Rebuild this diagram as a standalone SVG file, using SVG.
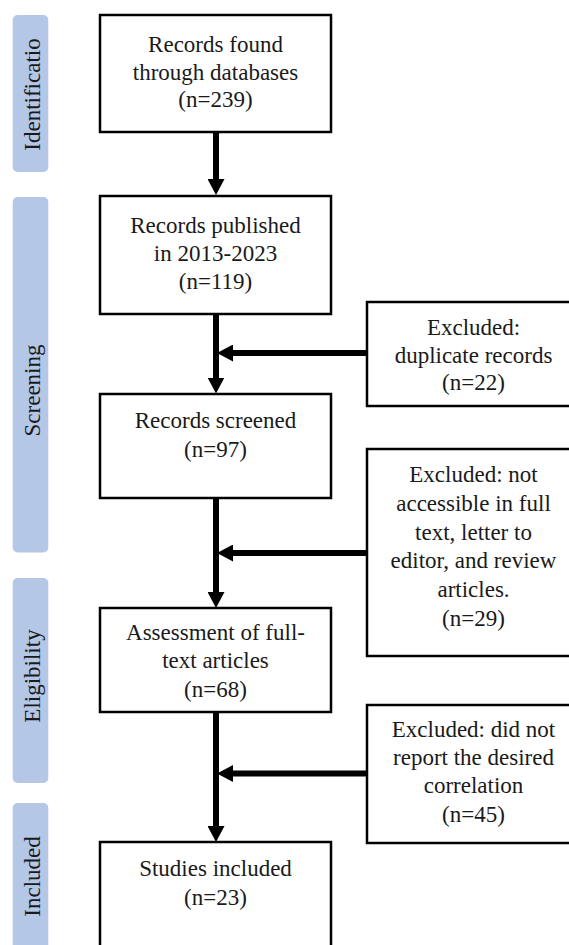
<svg xmlns="http://www.w3.org/2000/svg" width="569" height="945" viewBox="0 0 569 945">
<style>
.box{fill:#fff;stroke:#000;stroke-width:2.5}
.pill{fill:#b4c7e7}
.t{font-family:"Liberation Serif","Times New Roman",serif;font-size:23px;fill:#1a1a1a;text-anchor:middle}
.pt{font-family:"Liberation Serif","Times New Roman",serif;font-size:23px;fill:#1a1a1a;text-anchor:middle}
.conn{stroke:#000;stroke-width:6;fill:none;marker-end:url(#ah)}
</style>
<defs>
<marker id="ah" markerUnits="userSpaceOnUse" viewBox="0 0 16 17" refX="6" refY="8.5" markerWidth="16" markerHeight="17" orient="auto">
<path d="M0,0 L16,8.5 L0,17 Z" fill="#000"/>
</marker>
<clipPath id="c1"><rect x="12.7" y="15" width="35.6" height="157" rx="5"/></clipPath>
</defs>
<rect width="569" height="945" fill="#fff"/>

<g id="stage-identification">
<rect class="pill" x="12.7" y="15" width="35.6" height="157" rx="5"/>
<g clip-path="url(#c1)">
<text class="pt" transform="translate(40,94.5) rotate(-90)">Identificatio</text>
</g>
</g>
<g id="stage-screening">
<rect class="pill" x="12.7" y="197" width="35.6" height="355.5" rx="5"/>
<text class="pt" transform="translate(40,390.5) rotate(-90)">Screening</text>
</g>
<g id="stage-eligibility">
<rect class="pill" x="12.7" y="578" width="35.6" height="205" rx="5"/>
<text class="pt" transform="translate(40,676) rotate(-90)">Eligibility</text>
</g>
<g id="stage-included">
<rect class="pill" x="12.7" y="803" width="35.6" height="160" rx="5"/>
<text class="pt" transform="translate(40,876.5) rotate(-90)">Included</text>
</g>

<g id="connectors">
<line class="conn" x1="216" y1="132" x2="216" y2="185"/>
<line class="conn" x1="216" y1="314" x2="216" y2="383.5"/>
<line class="conn" x1="216" y1="498" x2="216" y2="598"/>
<line class="conn" x1="216" y1="712" x2="216" y2="832"/>
<line class="conn" x1="367" y1="353" x2="227" y2="353"/>
<line class="conn" x1="367" y1="553" x2="227" y2="553"/>
<line class="conn" x1="367" y1="773.5" x2="227" y2="773.5"/>
</g>

<g id="records-found">
<rect class="box" x="100" y="15" width="231" height="117"/>
<text class="t" x="215.5" y="52">Records found</text>
<text class="t" x="215.5" y="79.5">through databases</text>
<text class="t" x="215.5" y="107">(n=239)</text>
</g>
<g id="records-published">
<rect class="box" x="100" y="196" width="231" height="118"/>
<text class="t" x="215.5" y="233">Records published</text>
<text class="t" x="215.5" y="261">in 2013-2023</text>
<text class="t" x="215.5" y="289">(n=119)</text>
</g>
<g id="records-screened">
<rect class="box" x="100" y="394" width="231" height="104"/>
<text class="t" x="215.5" y="427.5">Records screened</text>
<text class="t" x="215.5" y="456.5">(n=97)</text>
</g>
<g id="assessment">
<rect class="box" x="100" y="608" width="231" height="104"/>
<text class="t" x="215.5" y="640">Assessment of full-</text>
<text class="t" x="215.5" y="668">text articles</text>
<text class="t" x="215.5" y="697">(n=68)</text>
</g>
<g id="studies-included">
<rect class="box" x="100" y="842" width="231" height="120"/>
<text class="t" x="215.5" y="876">Studies included</text>
<text class="t" x="215.5" y="905">(n=23)</text>
</g>

<g id="excluded-duplicates">
<rect class="box" x="367" y="302" width="213" height="104"/>
<text class="t" x="473.5" y="335">Excluded:</text>
<text class="t" x="473.5" y="362.5">duplicate records</text>
<text class="t" x="473.5" y="390">(n=22)</text>
</g>
<g id="excluded-access">
<rect class="box" x="367" y="449" width="213" height="207"/>
<text class="t" x="473.5" y="482">Excluded: not</text>
<text class="t" x="473.5" y="511">accessible in full</text>
<text class="t" x="473.5" y="539.5">text, letter to</text>
<text class="t" x="473.5" y="568">editor, and review</text>
<text class="t" x="473.5" y="597">articles.</text>
<text class="t" x="473.5" y="625.5">(n=29)</text>
</g>
<g id="excluded-correlation">
<rect class="box" x="367" y="705" width="213" height="138"/>
<text class="t" x="473.5" y="737">Excluded: did not</text>
<text class="t" x="473.5" y="765">report the desired</text>
<text class="t" x="473.5" y="793">correlation</text>
<text class="t" x="473.5" y="821.5">(n=45)</text>
</g>
</svg>
